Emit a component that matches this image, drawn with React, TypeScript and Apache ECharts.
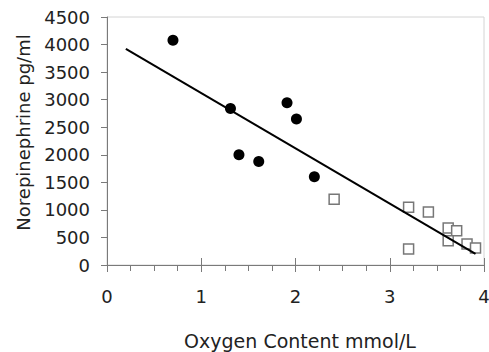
import React, { useEffect, useRef } from "react";
import * as echarts from "echarts";

const circleX = [0.7, 1.31, 1.4, 1.61, 1.91, 2.01, 2.2];
const circleY = [4080, 2840, 2000, 1880, 2945, 2650, 1600];
const squareX = [2.41, 3.2, 3.41, 3.2, 3.62, 3.71, 3.62, 3.82, 3.91];
const squareY = [1195, 1050, 960, 290, 670, 620, 440, 380, 310];
const fitX = [0.2, 3.91];
const fitY = [3920, 200];
const xTicks = [0, 1, 2, 3, 4];
const yTicks = [0, 500, 1000, 1500, 2000, 2500, 3000, 3500, 4000, 4500];

const FONT = "DejaVu Sans";
const TEXT = "#222";
const AXIS = "#7a7a7a";

export default function App() {
  const ref = useRef<HTMLDivElement>(null);
  useEffect(() => {
    const chart = echarts.init(ref.current!, null, { renderer: "svg" });
    const zip = (xs: number[], ys: number[]) => xs.map((x, i) => [x, ys[i]]);
    chart.setOption({
      animation: false,
      backgroundColor: "#fff",
      grid: {
        left: 107,
        right: 5,
        top: 17,
        bottom: 87,
        show: true,
        borderColor: "#d4d4d4",
        borderWidth: 1,
        outerBoundsMode: "none",
        containLabel: false,
      },
      xAxis: [
        {
          type: "value",
          min: xTicks[0],
          max: xTicks[xTicks.length - 1],
          interval: 1,
          name: "Oxygen Content mmol/L",
          nameLocation: "middle",
          nameGap: 66,
          nameTextStyle: { fontFamily: FONT, fontSize: 19, color: TEXT, padding: [0, 0, 0, 9] },
          axisLine: { show: true, lineStyle: { color: AXIS, width: 1 } },
          axisTick: { show: true, inside: false, length: 7, lineStyle: { color: AXIS } },
          minorTick: { show: true, splitNumber: 4, length: 6, lineStyle: { color: AXIS } },
          axisLabel: { fontFamily: FONT, fontSize: 18, color: TEXT, margin: 22 },
          splitLine: { show: false },
        },
        {
          type: "value",
          min: xTicks[0],
          max: xTicks[xTicks.length - 1],
          interval: 1,
          position: "bottom",
          axisLine: { show: false },
          axisTick: { show: true, inside: true, length: 7, lineStyle: { color: AXIS } },
          axisLabel: { show: false },
          splitLine: { show: false },
        },
      ],
      yAxis: {
        type: "value",
        min: yTicks[0],
        max: yTicks[yTicks.length - 1],
        interval: 500,
        name: "Norepinephrine pg/ml",
        nameLocation: "middle",
        nameGap: 75,
        nameTextStyle: { fontFamily: FONT, fontSize: 18, color: TEXT, padding: [0, 0, 0, 17] },
        axisLine: { show: true, lineStyle: { color: AXIS, width: 1 } },
        axisTick: { show: true, inside: false, length: 6, lineStyle: { color: AXIS } },
        axisLabel: {
          fontFamily: FONT,
          fontSize: 18,
          color: TEXT,
          margin: 17,
          formatter: (v: number) => String(v),
        },
        splitLine: { show: false },
      },
      series: [
        {
          type: "scatter",
          data: zip(circleX, circleY),
          symbol: "circle",
          symbolSize: 11,
          itemStyle: { color: "#000", opacity: 1 },
        },
        {
          type: "scatter",
          data: zip(squareX, squareY),
          symbol: "rect",
          symbolSize: 10,
          itemStyle: { color: "#fff", borderColor: "#777", borderWidth: 1.5, opacity: 1 },
        },
        {
          type: "line",
          data: zip(fitX, fitY),
          showSymbol: false,
          symbol: "none",
          lineStyle: { color: "#000", width: 2 },
          z: 3,
        },
      ],
    });
    return () => chart.dispose();
  }, []);
  return (
    <div
      ref={ref}
      style={{ position: "fixed", left: 0, top: 0, width: 489, height: 352, background: "#fff" }}
    />
  );
}
